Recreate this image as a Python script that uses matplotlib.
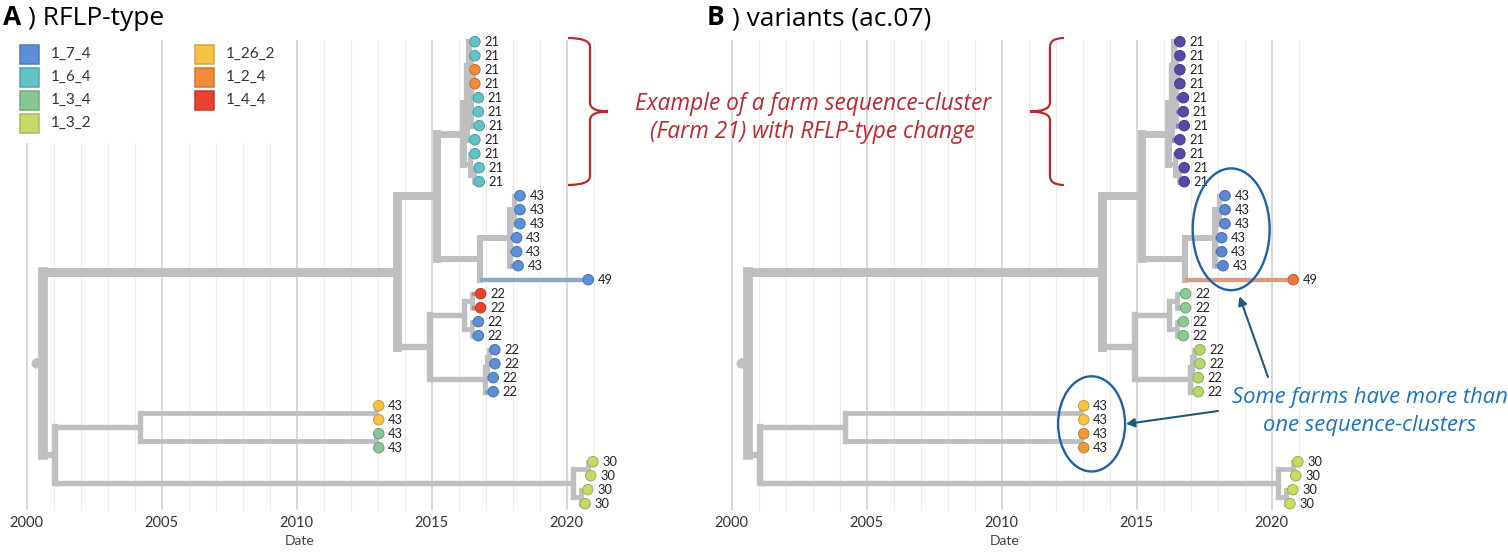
import matplotlib
matplotlib.use('Agg')
import matplotlib.pyplot as plt
from matplotlib.patches import Rectangle, Ellipse, FancyArrowPatch, PathPatch
from matplotlib.path import Path
from matplotlib.transforms import Affine2D
from matplotlib import colors as mcolors
import numpy as np

plt.rcParams['font.family'] = ['Lato', 'DejaVu Sans']

W, H = 1508, 553

# tips, listed top to bottom as in the tree
tip_farm = ['21'] * 11 + ['43'] * 6 + ['49'] + ['22'] * 8 + ['43'] * 4 + ['30'] * 4
tip_date = [2016.60, 2016.60, 2016.60, 2016.60, 2016.73, 2016.73, 2016.76,
            2016.60, 2016.60, 2016.76, 2016.76,
            2018.27, 2018.27, 2018.27, 2018.15, 2018.15, 2018.20,
            2020.80,
            2016.81, 2016.81, 2016.73, 2016.73,
            2017.34, 2017.34, 2017.28, 2017.28,
            2013.04, 2013.04, 2013.04, 2013.04,
            2020.97, 2020.89, 2020.78, 2020.68]
tip_rflp = (['1_6_4', '1_6_4', '1_2_4', '1_2_4'] + ['1_6_4'] * 7 + ['1_7_4'] * 7
            + ['1_4_4'] * 2 + ['1_7_4'] * 6 + ['1_26_2'] * 2 + ['1_3_4'] * 2 + ['1_3_2'] * 4)
tip_variant = (['v1'] * 11 + ['v2'] * 6 + ['v3'] + ['v4'] * 4 + ['v5'] * 4
               + ['v6'] * 2 + ['v7'] * 2 + ['v8'] * 4)

# internal nodes: name -> (date, children); ints are tip indices
nodes = {
    'root': (2000.62, ['A', 'C']),
    'A': (2013.70, ['A1', 'A2']),
    'A1': (2015.19, ['N21', 'N43_49']),
    'N21': (2016.16, ['U', 'L']),
    'U': (2016.30, ['Ua', 7]),
    'Ua': (2016.38, [0, 'Ub']),
    'Ub': (2016.45, [1, 'Uo', 4, 5, 6]),
    'Uo': (2016.53, [2, 3]),
    'L': (2016.42, [8, 'L2']),
    'L2': (2016.55, [9, 10]),
    'N43_49': (2016.79, ['N43', 17]),
    'N43': (2017.90, ['Xa', 14, 15, 16]),
    'Xa': (2018.04, [11, 12, 13]),
    'A2': (2014.94, ['A2a', 'A2b']),
    'A2a': (2016.20, ['R22', 'B22']),
    'R22': (2016.48, [18, 19]),
    'B22': (2016.48, [20, 21]),
    'A2b': (2016.97, ['P3', 25]),
    'P3': (2017.05, ['P2', 24]),
    'P2': (2017.12, [22, 23]),
    'C': (2001.06, ['B1', 'B2']),
    'B1': (2004.21, ['Y43', 'G43']),
    'Y43': (2012.95, [26, 27]),
    'G43': (2012.95, [28, 29]),
    'B2': (2020.24, ['B2a', 'B2b']),
    'B2a': (2020.80, [30, 31]),
    'B2b': (2020.52, [32, 33]),
}
root_stub = 2000.33

rflp_types = ['1_7_4', '1_6_4', '1_3_4', '1_3_2', '1_26_2', '1_2_4', '1_4_4']
rflp_colors = ['#5b8fd7', '#62c3c6', '#86c795', '#c3da6b', '#f6c244', '#f28c3a', '#e8432e']
variant_names = ['v1', 'v2', 'v3', 'v4', 'v5', 'v6', 'v7', 'v8']
variant_colors = ['#5a48a8', '#5d86d7', '#f0793a', '#8ccb95', '#b3d66e', '#f6c443', '#f19a3a', '#c5dc62']

years_major = [2000, 2005, 2010, 2015, 2020]
years_grid = list(range(2000, 2022))

GREY = '#bdbfc1'
PXY = 27.0          # pixels per year
TIP0, TIPSTEP = 41.7, 14.0


def ypos(n):
    if isinstance(n, int):
        return float(n)
    kids = nodes[n][1]
    return (ypos(kids[0]) + ypos(kids[-1])) / 2


def ntips(n):
    if isinstance(n, int):
        return 1
    return sum(ntips(k) for k in nodes[n][1])


def ndate(n):
    return tip_date[n] if isinstance(n, int) else nodes[n][0]


def lw(n):
    return (3.2 + 6.5 * np.sqrt(ntips(n) / 34.0)) * 0.72


def blend(c, f=0.5):
    a = np.array(mcolors.to_rgb(c))
    g = np.array(mcolors.to_rgb(GREY))
    return tuple(a * f + g * (1 - f))


def darker(c, f=0.8):
    return tuple(np.array(mcolors.to_rgb(c)) * f)


fig = plt.figure(figsize=(W / 100, H / 100), dpi=100)
px = Affine2D().scale(1.0 / W, -1.0 / H).translate(0, 1) + fig.transFigure


def make_axes(left, right, year0):
    ax = fig.add_axes([left / W, 1 - 512 / H, (right - left) / W, (512 - 30) / H])
    ax.set_xlim(2000 + (left - year0) / PXY, 2000 + (right - year0) / PXY)
    ax.set_ylim((512 - TIP0) / TIPSTEP, (30 - TIP0) / TIPSTEP)
    for s in ax.spines.values():
        s.set_visible(False)
    ax.set_yticks([])
    ax.set_xticks(years_major)
    ax.tick_params(axis='x', length=0, labelsize=10.5, pad=3, colors='#333333')
    top, bot = (40 - TIP0) / TIPSTEP, (510 - TIP0) / TIPSTEP
    minor = [y for y in years_grid if y % 5]
    ax.vlines(minor, bot, top, color='#ececec', lw=0.8, zorder=0)
    ax.vlines(years_major, bot, top, color='#d2d2d2', lw=1.2, zorder=0.5)
    ax.text(2010.1, (541 - TIP0) / TIPSTEP, 'Date', ha='center', va='center',
            fontsize=10, color='#444444', clip_on=False)
    return ax


def draw_tree(ax, cols):
    for name, (d, kids) in nodes.items():
        ys = [ypos(k) for k in kids]
        ax.plot([d, d], [min(ys), max(ys)], color=GREY, lw=lw(name),
                solid_capstyle='projecting', zorder=2)
        for k in kids:
            c = blend(cols[k]) if isinstance(k, int) else GREY
            ax.plot([d, ndate(k)], [ypos(k)] * 2, color=c, lw=lw(k),
                    solid_capstyle='butt', zorder=2.5 if isinstance(k, int) else 2)
    ry = ypos('root')
    ax.plot([root_stub, nodes['root'][0]], [ry, ry], color=GREY, lw=lw('root'),
            solid_capstyle='butt', zorder=2)
    ax.scatter([root_stub], [ry], s=(10 * 0.72) ** 2, color=GREY, zorder=3, linewidths=0)
    idx = np.arange(len(tip_date))
    ax.scatter(tip_date, idx, s=(10.5 * 0.72) ** 2, c=cols,
               edgecolors=[darker(c) for c in cols], linewidths=0.7, zorder=4)
    for i in idx:
        ax.annotate(tip_farm[i], (tip_date[i], i), xytext=(6.8, 0), textcoords='offset points',
                    ha='left', va='center', fontsize=9.3, color='#222222', zorder=5)


def title(x, letter, rest):
    t = fig.text(x, 25, letter, transform=px, fontsize=19, fontweight='bold',
                 family=['Open Sans', 'DejaVu Sans'], va='baseline')
    fig.canvas.draw()
    bb = t.get_window_extent(fig.canvas.get_renderer())
    fig.text(bb.x1 + 7, 25, rest, transform=px, fontsize=19,
             family=['Open Sans', 'DejaVu Sans'], va='baseline')


def brace(x_hook, x_spine, x_tip, y_top, y_bot, color):
    ym = (y_top + y_bot) / 2
    r = 9
    verts = [(x_hook, y_top), (x_spine, y_top), (x_spine, y_top + r),
             (x_spine, ym - r), (x_spine, ym), (x_tip, ym),
             (x_spine, ym), (x_spine, ym + r),
             (x_spine, y_bot - r), (x_spine, y_bot), (x_hook, y_bot)]
    codes = [Path.MOVETO, Path.CURVE3, Path.CURVE3, Path.LINETO, Path.CURVE3, Path.CURVE3,
             Path.CURVE3, Path.CURVE3, Path.LINETO, Path.CURVE3, Path.CURVE3]
    fig.add_artist(PathPatch(Path(verts, codes), transform=px, fill=False,
                             edgecolor=color, lw=1.6, zorder=6))


# ---- panel A: RFLP-type
axA = make_axes(0, 620, 26.7)
rcol = dict(zip(rflp_types, rflp_colors))
draw_tree(axA, [rcol[t] for t in tip_rflp])

# legend (white box hides the grid behind it)
for x0, x1 in [(0, 150), (172, 285)]:
    fig.add_artist(Rectangle((x0, 36), x1 - x0, 107, transform=px, facecolor='white',
                             edgecolor='none', zorder=1))
for k, (name, c) in enumerate(zip(rflp_types, rflp_colors)):
    col, row = divmod(k, 4)
    sx = 20 + 175 * col
    sy = 54 + 23 * row
    fig.add_artist(Rectangle((sx, sy - 9.5), 19, 19, transform=px, facecolor=c,
                             edgecolor=darker(c, 0.85), lw=1.1, zorder=3))
    fig.text(sx + 30.5, sy, name, transform=px, fontsize=11, color='#333333',
             va='center', ha='left', zorder=3)

title(3, 'A', ') RFLP-type')
brace(568, 590, 608, 38, 185, '#c0272d')

# ---- panel B: variants
axB = make_axes(705, 1508, 731.7)
vcol = dict(zip(variant_names, variant_colors))
draw_tree(axB, [vcol[v] for v in tip_variant])

title(707, 'B', ') variants (ac.07)')
brace(1064, 1050, 1030, 38, 185, '#c0272d')

red_lines = ['Example of a farm sequence-cluster', '(Farm 21) with RFLP-type change']
for k, s in enumerate(red_lines):
    fig.text(813, 103.5 + 28 * k, s, transform=px, fontsize=16.3, style='italic',
             family=['Open Sans', 'DejaVu Sans'], color='#c0272d', ha='center', va='center')

blue_lines = ['Some farms have more than', 'one sequence-clusters']
for k, s in enumerate(blue_lines):
    fig.text(1370, 397.5 + 27.5 * k, s, transform=px, fontsize=15.8, style='italic',
             family=['Open Sans', 'DejaVu Sans'], color='#1b74bd', ha='center', va='center')

# ellipses around farm 43 groups (in tree coordinates)
axB.add_patch(Ellipse((np.mean(tip_date[11:17]) + 0.28, np.mean(range(11, 17)) - 0.1), 2.85, 8.7,
                      fill=False, edgecolor='#1e62a8', lw=1.7, zorder=6, clip_on=False))
axB.add_patch(Ellipse((np.mean(tip_date[26:30]) + 0.29, np.mean(range(26, 30)) - 0.2), 2.48, 6.8,
                      fill=False, edgecolor='#1e62a8', lw=1.7, zorder=6, clip_on=False))

for (xa, ya), (xb, yb) in [((1268, 377), (1239.5, 296.5)), ((1218, 411), (1126, 424))]:
    fig.add_artist(FancyArrowPatch((xa, ya), (xb, yb), transform=px,
                                   arrowstyle='-|>,head_length=5,head_width=2.6',
                                   color='#1f5a7a', lw=1.5, shrinkA=0, shrinkB=0, zorder=6))

fig.savefig('out.png', dpi=100)
